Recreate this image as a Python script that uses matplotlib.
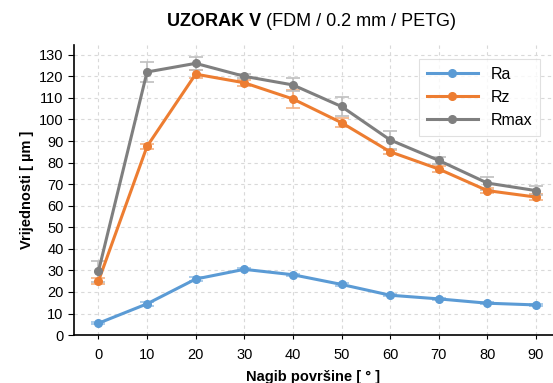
import matplotlib
matplotlib.use("Agg")
import matplotlib.pyplot as plt

plt.rcParams['font.family'] = ['Liberation Sans', 'DejaVu Sans']

angles = [0, 10, 20, 30, 40, 50, 60, 70, 80, 90]
ra = [5.5, 14.5, 26, 30.5, 28, 23.5, 18.5, 16.8, 14.8, 14]
ra_err = [0.5, 0.8, 0.8, 0.5, 0.5, 0.5, 0.5, 0.5, 0.5, 0.5]
rz = [25, 87.5, 121, 117, 109.5, 98.5, 85, 77, 67, 64]
rz_err = [1.5, 1, 2, 1.5, 4, 2, 1, 1.5, 1, 1.5]
rmax = [29.5, 122, 126, 120, 116, 106, 90.5, 81, 70.5, 67]
rmax_err = [5, 4.5, 3, 1, 3, 4.5, 4, 1.5, 3, 2]
labels = ['Ra', 'Rz', 'Rmax']
colors = ['#5B9BD5', '#ED7D31', '#7F7F7F']
err_colors = ['#9DC3E6', '#F4B183', '#BFBFBF']

fig = plt.figure(figsize=(5.53, 3.83), dpi=100)
ax = fig.add_axes([0.134, 0.125, 0.866, 0.758])

for y, e, lab, c, ec in zip([ra, rz, rmax], [ra_err, rz_err, rmax_err], labels, colors, err_colors):
    ax.errorbar(angles, y, yerr=e, fmt='none', ecolor=ec, elinewidth=1.2, capsize=5, capthick=1.2, zorder=2)
for y, lab, c in zip([ra, rz, rmax], labels, colors):
    ax.plot(angles, y, color=c, lw=2.2, marker='o', ms=5.5, label=lab, zorder=3)

ax.set_xlim(-5, 93.5)
ax.set_ylim(0, 134.6)
ax.set_xticks(angles)
ax.set_yticks(range(0, 131, 10))
ax.tick_params(axis='both', labelsize=10.5, length=4, direction='out')
ax.tick_params(axis='x', length=3, pad=6)
ax.grid(True, linestyle=(0, (3, 3)), color='#D9D9D9', lw=0.8)
ax.set_axisbelow(True)
for s in ['top', 'right']:
    ax.spines[s].set_visible(False)
for s in ['left', 'bottom']:
    ax.spines[s].set_linewidth(1.2)

ax.set_xlabel('Nagib površine [ ° ]', fontsize=10.5, fontweight='bold', labelpad=6)
ax.set_ylabel('Vrijednosti [ µm ]', fontsize=10.5, fontweight='bold', labelpad=4)

t1 = fig.text(167 / 553, 0.943, 'UZORAK V', fontsize=13, fontweight='bold', ha='left', va='center')
fig.canvas.draw()
bb = t1.get_window_extent()
x2 = (bb.x1 + 5) / fig.bbox.width
fig.text(x2, 0.943, '(FDM / 0.2 mm / PETG)', fontsize=13, ha='left', va='center')

leg = ax.legend(loc='upper right', bbox_to_anchor=(0.99, 0.98), fontsize=11.5, frameon=True,
                fancybox=False, edgecolor='#D9D9D9', handlelength=3.2, borderpad=0.5, labelspacing=0.5)
leg.get_frame().set_linewidth(0.8)

fig.savefig('out.png', dpi=100)
